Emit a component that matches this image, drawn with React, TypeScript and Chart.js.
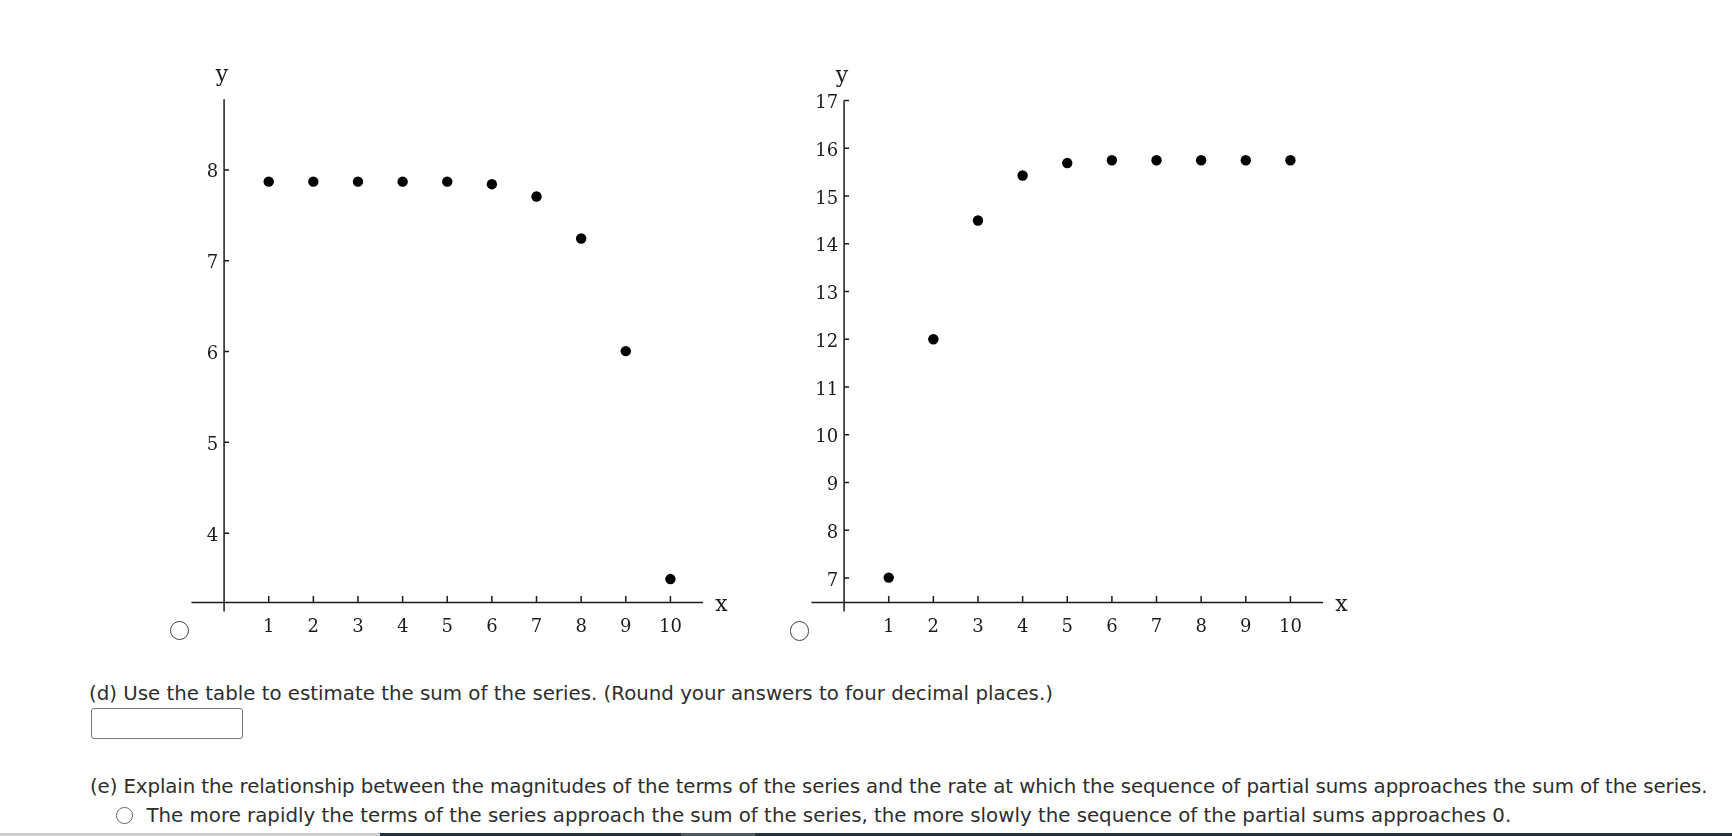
import React, { useEffect, useRef } from "react";
import { Chart, registerables } from "chart.js";

Chart.register(...registerables);

// ---- data ----
const xValues = [1, 2, 3, 4, 5, 6, 7, 8, 9, 10];
const seriesA = [7.871, 7.871, 7.871, 7.871, 7.871, 7.843, 7.707, 7.245, 6.004, 3.494];
const seriesB = [7.01, 12.0, 14.487, 15.43, 15.69, 15.75, 15.75, 15.75, 15.75, 15.75];
const xTickLabels = ["1", "2", "3", "4", "5", "6", "7", "8", "9", "10"];
const yTicksA = [4, 5, 6, 7, 8];
const yTicksB = [7, 8, 9, 10, 11, 12, 13, 14, 15, 16, 17];
const xRange = [-0.73, 10.73];
const yRangeA = [3.236, 8.778];
const yRangeB = [6.489, 17.0];

const AXIS_COLOR = "#1c1c1c";

const crossAxesPlugin = {
  id: "crossAxes",
  afterDraw(chart: any, _args: any, opts: any) {
    const { ctx } = chart;
    const xs = chart.scales.x;
    const ys = chart.scales.y;
    const x0 = xs.getPixelForValue(0);
    const yBase = ys.getPixelForValue(ys.min);
    const yTop = ys.getPixelForValue(ys.max);
    ctx.save();
    ctx.strokeStyle = AXIS_COLOR;
    ctx.lineWidth = 1.5;
    ctx.beginPath();
    ctx.moveTo(xs.getPixelForValue(xs.min), yBase);
    ctx.lineTo(xs.getPixelForValue(xs.max), yBase);
    ctx.moveTo(x0, yTop);
    ctx.lineTo(x0, yBase + 9);
    xValues.forEach((v) => {
      const px = xs.getPixelForValue(v);
      ctx.moveTo(px, yBase);
      ctx.lineTo(px, yBase - 6.5);
    });
    (opts.yTicks as number[]).forEach((v) => {
      const py = ys.getPixelForValue(v);
      ctx.moveTo(x0, py);
      ctx.lineTo(x0 + 5, py);
    });
    ctx.stroke();

    ctx.fillStyle = AXIS_COLOR;
    ctx.font = '18px "DejaVu Serif"';
    ctx.textBaseline = "alphabetic";
    ctx.textAlign = "center";
    xValues.forEach((v, i) => {
      ctx.fillText(xTickLabels[i], xs.getPixelForValue(v), yBase + 29);
    });
    ctx.textAlign = "right";
    (opts.yTicks as number[]).forEach((v) => {
      ctx.fillText(String(v), x0 - 6, ys.getPixelForValue(v) + 7.5);
    });
    ctx.font = '22px "DejaVu Serif"';
    ctx.textAlign = "center";
    ctx.fillText("y", x0 - 2, chart.chartArea.top - 18.5);
    ctx.fillText("x", xs.getPixelForValue(xs.max) + 18.5, yBase + 8);
    ctx.restore();
  },
};

function ScatterPanel(props: { values: number[]; yRange: number[]; yTicks: number[]; left: number; topPad: number }) {
  const ref = useRef<HTMLCanvasElement>(null);
  useEffect(() => {
    if (!ref.current) return;
    const chart = new Chart(ref.current, {
      type: "scatter",
      data: {
        datasets: [
          {
            data: xValues.map((x, i) => ({ x, y: props.values[i] })),
            backgroundColor: "#000",
            borderColor: "#000",
            borderWidth: 0,
            pointRadius: 5.2,
            pointHoverRadius: 5.2,
            clip: false as any,
          },
        ],
      },
      options: {
        responsive: false,
        maintainAspectRatio: false,
        animation: false,
        events: [],
        layout: { padding: { left: 51.5, right: 77, top: props.topPad, bottom: 57.5 } },
        scales: {
          x: { type: "linear", min: xRange[0], max: xRange[1], display: false },
          y: { type: "linear", min: props.yRange[0], max: props.yRange[1], display: false },
        },
        plugins: {
          legend: { display: false },
          tooltip: { enabled: false },
          crossAxes: { yTicks: props.yTicks },
        } as any,
      },
      plugins: [crossAxesPlugin],
    });
    return () => chart.destroy();
  }, []);
  return (
    <canvas
      ref={ref}
      width={640}
      height={620}
      style={{ position: "absolute", left: props.left, top: 40, width: 640, height: 620 }}
    />
  );
}

function Radio(props: { cx: number; cy: number; r: number; color: string; w: number }) {
  const { cx, cy, r, color, w } = props;
  return (
    <div
      style={{
        position: "absolute",
        left: cx - r,
        top: cy - r,
        width: 2 * r,
        height: 2 * r,
        boxSizing: "border-box",
        border: `${w}px solid ${color}`,
        borderRadius: "50%",
        background: "#fff",
      }}
    />
  );
}

const textStyle: React.CSSProperties = {
  position: "absolute",
  fontFamily: '"DejaVu Sans", Verdana, sans-serif',
  fontSize: 19.8,
  lineHeight: "24px",
  color: "#2e2e2e",
  whiteSpace: "nowrap",
};

export default function App() {
  return (
    <div style={{ position: "absolute", left: 0, top: 0, width: 1732, height: 836, background: "#fff", overflow: "hidden" }}>
      <ScatterPanel values={seriesA} yRange={yRangeA} yTicks={yTicksA} left={140} topPad={59.3} />
      <ScatterPanel values={seriesB} yRange={yRangeB} yTicks={yTicksB} left={760} topPad={60.5} />
      <Radio cx={179.7} cy={630.8} r={9.7} color="#444" w={1.3} />
      <Radio cx={799.7} cy={631} r={9.7} color="#444" w={1.3} />
      <div style={{ ...textStyle, left: 89, top: 681.9 }}>
        (d) Use the table to estimate the sum of the series. (Round your answers to four decimal places.)
      </div>
      <div
        style={{
          position: "absolute",
          left: 90.7,
          top: 708.3,
          width: 152.6,
          height: 31,
          boxSizing: "border-box",
          border: "1px solid #767676",
          borderRadius: 3,
        }}
      />
      <div style={{ ...textStyle, left: 90, top: 774.5, letterSpacing: -0.11 }}>
        (e) Explain the relationship between the magnitudes of the terms of the series and the rate at which the sequence of partial sums approaches the sum of the series.
      </div>
      <Radio cx={124.7} cy={815.3} r={8.3} color="#666" w={1.5} />
      <div style={{ ...textStyle, left: 146.5, top: 803.9 }}>
        The more rapidly the terms of the series approach the sum of the series, the more slowly the sequence of the partial sums approaches 0.
      </div>
      <div style={{ position: "absolute", left: 0, top: 833, width: 380, height: 3, background: "#cfcfcf" }} />
      <div style={{ position: "absolute", left: 380, top: 833, width: 1352, height: 3, background: "#22333f" }} />
      <div style={{ position: "absolute", left: 681, top: 833, width: 74, height: 3, background: "#4b5b66" }} />
    </div>
  );
}
